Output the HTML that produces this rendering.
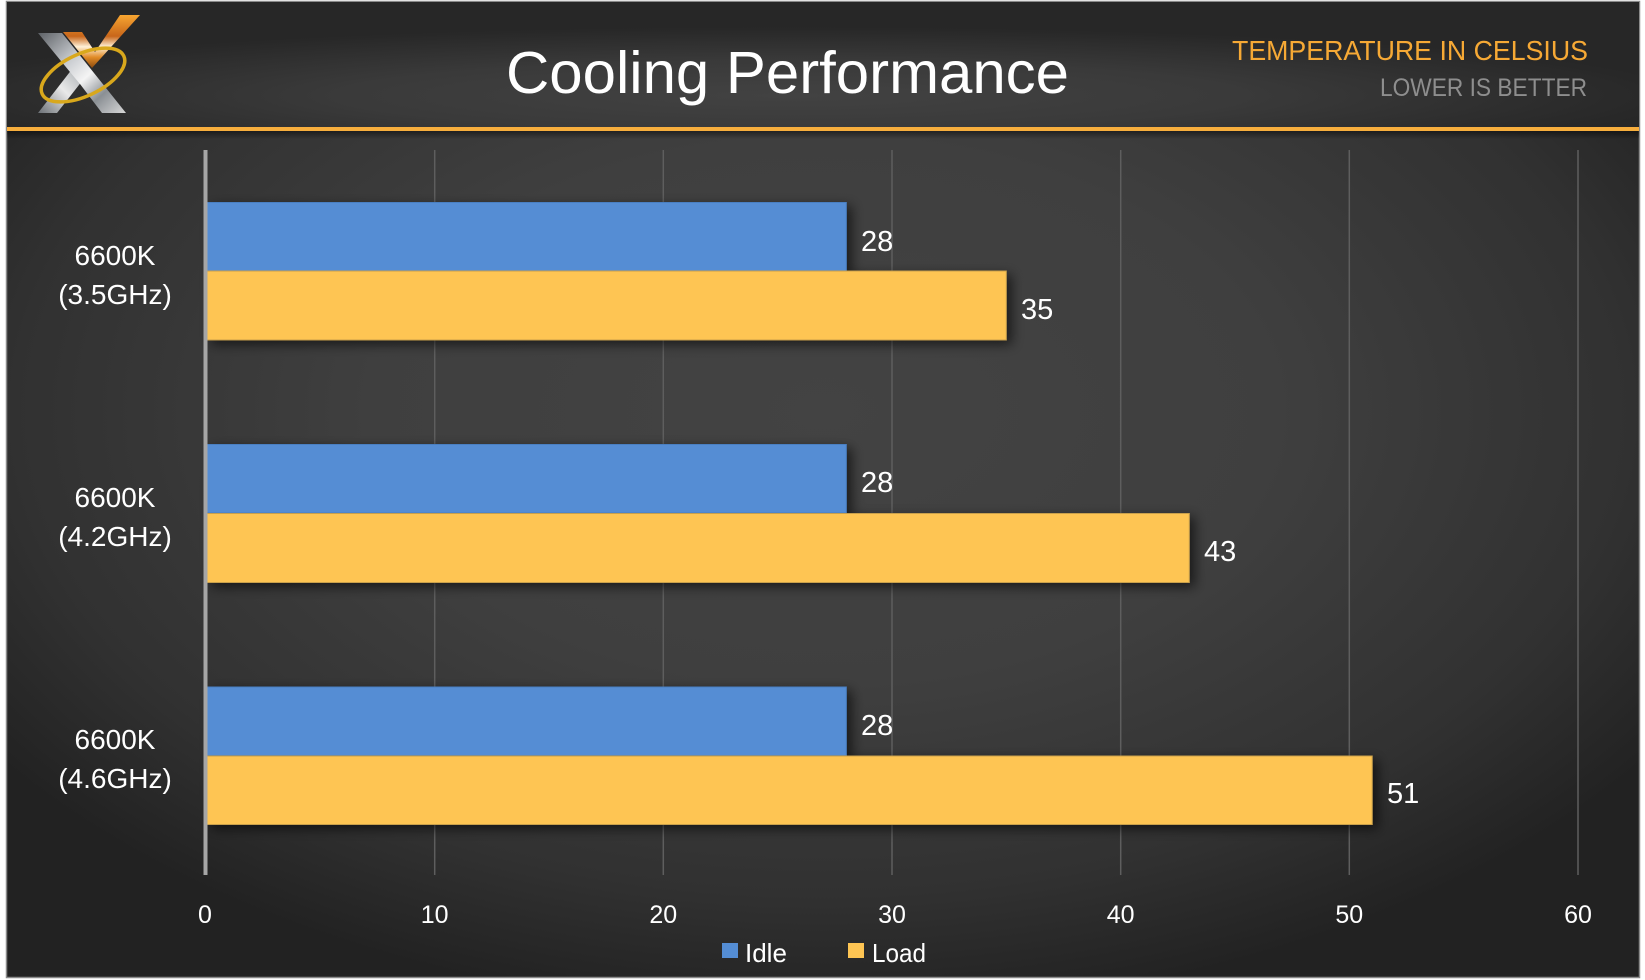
<!DOCTYPE html>
<html>
<head>
<meta charset="utf-8">
<style>
html,body{margin:0;padding:0;background:#ffffff;}
svg{display:block;}
text{font-family:"Liberation Sans",sans-serif;}
</style>
</head>
<body>
<svg width="1645" height="980" viewBox="0 0 1645 980" xmlns="http://www.w3.org/2000/svg">
  <defs>
    <radialGradient id="bodyBg" cx="0.5" cy="0.42" r="0.62">
      <stop offset="0" stop-color="#434343"/>
      <stop offset="0.45" stop-color="#3f3f3f"/>
      <stop offset="0.8" stop-color="#313131"/>
      <stop offset="1" stop-color="#222222"/>
    </radialGradient>
    <radialGradient id="headBg" cx="0.48" cy="0.75" r="0.55">
      <stop offset="0" stop-color="#424242"/>
      <stop offset="0.5" stop-color="#3a3a3a"/>
      <stop offset="1" stop-color="#272727"/>
    </radialGradient>
    <linearGradient id="lineShadow" x1="0" y1="0" x2="0" y2="1">
      <stop offset="0" stop-color="#000" stop-opacity="0.45"/>
      <stop offset="1" stop-color="#000" stop-opacity="0"/>
    </linearGradient>
    <filter id="shadow" x="-5%" y="-30%" width="115%" height="170%">
      <feDropShadow dx="5" dy="4" stdDeviation="6" flood-color="#000" flood-opacity="0.6"/>
    </filter>
    <linearGradient id="silver" x1="0" y1="0" x2="1" y2="1">
      <stop offset="0" stop-color="#5d6166"/>
      <stop offset="0.35" stop-color="#c9ccd0"/>
      <stop offset="0.55" stop-color="#f4f4f4"/>
      <stop offset="0.75" stop-color="#8a8f94"/>
      <stop offset="1" stop-color="#d8d8d8"/>
    </linearGradient>
    <linearGradient id="silver2" x1="0" y1="1" x2="1" y2="0">
      <stop offset="0" stop-color="#6b7075"/>
      <stop offset="0.5" stop-color="#e9e9e9"/>
      <stop offset="1" stop-color="#9aa0a5"/>
    </linearGradient>
    <linearGradient id="orange" x1="0" y1="0" x2="0" y2="1">
      <stop offset="0" stop-color="#f7a531"/>
      <stop offset="0.4" stop-color="#c8661a"/>
      <stop offset="0.6" stop-color="#fff1d8"/>
      <stop offset="0.8" stop-color="#e08a25"/>
      <stop offset="1" stop-color="#8a4a10"/>
    </linearGradient>
  </defs>

  <!-- frame -->
  <rect x="6.5" y="1.5" width="1633" height="976" fill="url(#bodyBg)" stroke="#8a8a8a" stroke-width="1.5"/>
  <rect x="7" y="2" width="1632" height="125" fill="url(#headBg)"/>
  <rect x="7" y="131" width="1632" height="8" fill="url(#lineShadow)"/>
  <rect x="7" y="127" width="1632" height="4" fill="#f7ae3d"/>

  <!-- logo -->
  <g>
    <polygon points="38,113 57,113 86,76 76,64" fill="url(#silver2)"/>
    <polygon points="38,33 62,33 126,113 102,113 80,84 70,72" fill="url(#silver)"/>
    <polygon points="63,32 82,32 95,52 120,15 140,15 92,68" fill="url(#orange)"/>
    <ellipse cx="83" cy="75" rx="45" ry="21" transform="rotate(-25 83 75)" fill="none" stroke="#d9a81c" stroke-width="3.5"/>
  </g>

  <!-- header texts -->
  <text x="506" y="93" font-size="59" fill="#ffffff" textLength="563" lengthAdjust="spacingAndGlyphs">Cooling Performance</text>
  <text x="1232" y="60" font-size="28" fill="#f6a935" textLength="356" lengthAdjust="spacingAndGlyphs">TEMPERATURE IN CELSIUS</text>
  <text x="1380" y="96" font-size="25" fill="#8e8e8e" textLength="207" lengthAdjust="spacingAndGlyphs">LOWER IS BETTER</text>

  <!-- gridlines -->
  <g stroke="#5e5e5e" stroke-width="1.5">
    <line x1="434.7" y1="150" x2="434.7" y2="875"/>
    <line x1="663.3" y1="150" x2="663.3" y2="875"/>
    <line x1="892" y1="150" x2="892" y2="875"/>
    <line x1="1120.7" y1="150" x2="1120.7" y2="875"/>
    <line x1="1349.3" y1="150" x2="1349.3" y2="875"/>
    <line x1="1578" y1="150" x2="1578" y2="875"/>
  </g>

  <!-- bars -->
  <g filter="url(#shadow)">
    <rect x="207" y="202.5" width="639.3" height="68.5" fill="#548dd4" stroke="#4a7fc2" stroke-width="1"/>
    <rect x="207" y="271" width="799.3" height="69" fill="#fec553" stroke="#c9a04c" stroke-width="1"/>
    <rect x="207" y="444.5" width="639.3" height="68.5" fill="#548dd4" stroke="#4a7fc2" stroke-width="1"/>
    <rect x="207" y="513.5" width="982.3" height="69" fill="#fec553" stroke="#c9a04c" stroke-width="1"/>
    <rect x="207" y="687" width="639.3" height="68.5" fill="#548dd4" stroke="#4a7fc2" stroke-width="1"/>
    <rect x="207" y="756" width="1165.2" height="68.5" fill="#fec553" stroke="#c9a04c" stroke-width="1"/>
  </g>

  <!-- axis -->
  <rect x="203.5" y="150" width="4" height="725" fill="#a6a6a6"/>

  <!-- data labels -->
  <g font-size="29" fill="#ffffff">
    <text x="861" y="251">28</text>
    <text x="1021" y="319">35</text>
    <text x="861" y="492">28</text>
    <text x="1204" y="561">43</text>
    <text x="861" y="735">28</text>
    <text x="1387" y="803">51</text>
  </g>

  <!-- category labels -->
  <g font-size="28" fill="#ffffff" text-anchor="middle">
    <text x="115" y="265">6600K</text>
    <text x="115" y="304">(3.5GHz)</text>
    <text x="115" y="507">6600K</text>
    <text x="115" y="546">(4.2GHz)</text>
    <text x="115" y="749">6600K</text>
    <text x="115" y="788">(4.6GHz)</text>
  </g>

  <!-- x tick labels -->
  <g font-size="25" fill="#ffffff" text-anchor="middle">
    <text x="205" y="923">0</text>
    <text x="434.7" y="923">10</text>
    <text x="663.3" y="923">20</text>
    <text x="892" y="923">30</text>
    <text x="1120.7" y="923">40</text>
    <text x="1349.3" y="923">50</text>
    <text x="1578" y="923">60</text>
  </g>

  <!-- legend -->
  <rect x="722" y="943" width="16" height="15" fill="#548dd4"/>
  <text x="745" y="962" font-size="26" fill="#ffffff">Idle</text>
  <rect x="848" y="943" width="16" height="15" fill="#fec553"/>
  <text x="872" y="962" font-size="26" fill="#ffffff" textLength="54" lengthAdjust="spacingAndGlyphs">Load</text>
</svg>
</body>
</html>
